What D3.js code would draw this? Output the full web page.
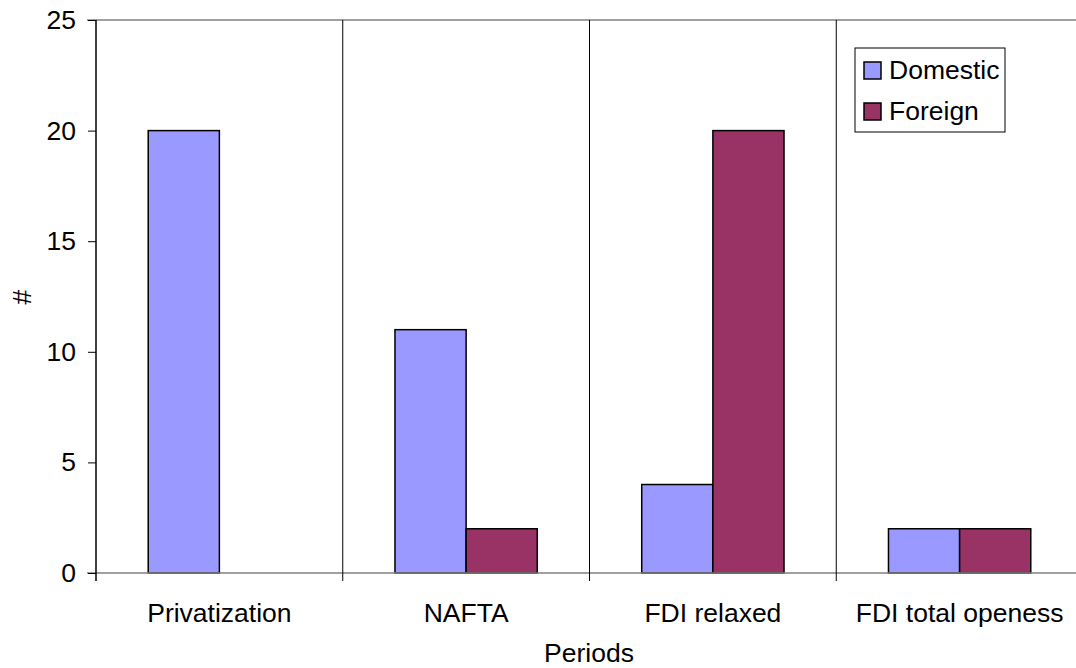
<!DOCTYPE html>
<html>
<head>
<meta charset="utf-8">
<script src="https://cdn.jsdelivr.net/npm/d3@7"></script>
<style>
  html, body { margin: 0; padding: 0; background: #fff; }
  svg { display: block; font-family: Arial, "Liberation Sans", sans-serif; }
</style>
</head>
<body>
<svg id="chart" width="1076" height="668"></svg>
<script>
// Number of firms per period, by ownership
const periods = ["Privatization", "NAFTA", "FDI relaxed", "FDI total openess"];
const seriesNames = ["Domestic", "Foreign"];
const domestic = [20, 11, 4, 2];
const foreign = [0, 2, 20, 2];
const yTicks = [0, 5, 10, 15, 20, 25];
const colors = ["#9999FF", "#993366"];

const fontSize = 26.5;
const svg = d3.select("#chart");
const plotLeft = 96, plotRight = 1083, plotTop = 20, plotBottom = 573;

const x = d3.scaleBand().domain(periods).range([plotLeft, plotRight]).paddingInner(0).paddingOuter(0);
const xSub = d3.scaleBand().domain(seriesNames).range([0, x.bandwidth()]).paddingInner(0).paddingOuter(0.734);
const y = d3.scaleLinear().domain([0, 25]).range([plotBottom, plotTop]);

// Plot frame: top border
svg.append("line").attr("x1", 87).attr("x2", 1076).attr("y1", y(25)).attr("y2", y(25))
  .attr("stroke", "#808080").attr("stroke-width", 1.5);

// Bars
const rows = periods.map((p, i) => ({ period: p, values: [domestic[i], foreign[i]] }));
const groups = svg.append("g").selectAll("g").data(rows).join("g")
  .attr("transform", d => `translate(${x(d.period)},0)`);
groups.selectAll("rect")
  .data(d => d.values.map((v, j) => ({ name: seriesNames[j], value: v, j })).filter(d => d.value > 0))
  .join("rect")
  .attr("x", d => xSub(d.name))
  .attr("width", xSub.bandwidth())
  .attr("y", d => y(d.value))
  .attr("height", d => y(0) - y(d.value))
  .attr("fill", d => colors[d.j])
  .attr("stroke", "#000")
  .attr("stroke-width", 1.5);

// Category axis line
svg.append("line").attr("x1", 87).attr("x2", 1076).attr("y1", y(0)).attr("y2", y(0))
  .attr("stroke", "#808080").attr("stroke-width", 1.5);

// Category separators (crossing the axis as tick marks)
const bounds = periods.slice(1).map(p => x(p));
svg.append("g").selectAll("line").data(bounds).join("line")
  .attr("x1", d => d).attr("x2", d => d).attr("y1", plotTop).attr("y2", plotBottom + 8)
  .attr("stroke", "#000").attr("stroke-width", 1);

// Value axis
const yAxis = svg.append("g").attr("transform", `translate(${plotLeft},0)`)
  .call(d3.axisLeft(y).tickValues(yTicks).tickSize(8).tickPadding(12).tickFormat(d3.format("d")));
yAxis.select(".domain").remove();
yAxis.selectAll(".tick line").attr("stroke", "#000").attr("stroke-width", 1);
yAxis.selectAll(".tick text").attr("font-size", fontSize).attr("fill", "#000")
  .attr("font-family", "Arial, 'Liberation Sans', sans-serif");
svg.append("line").attr("x1", plotLeft).attr("x2", plotLeft).attr("y1", plotTop).attr("y2", plotBottom + 8)
  .attr("stroke", "#000").attr("stroke-width", 1.5);

// Category labels
svg.append("g").selectAll("text").data(periods).join("text")
  .attr("x", d => x(d) + x.bandwidth() / 2)
  .attr("y", 622)
  .attr("text-anchor", "middle")
  .attr("font-size", fontSize)
  .text(d => d);

// Axis titles
svg.append("text").attr("x", 589).attr("y", 662).attr("text-anchor", "middle")
  .attr("font-size", fontSize).text("Periods");
svg.append("text").attr("transform", "translate(31,297) rotate(-90)")
  .attr("text-anchor", "middle").attr("font-size", fontSize).text("#");

// Legend
const legend = svg.append("g").attr("transform", "translate(855,48)");
legend.append("rect").attr("width", 150).attr("height", 84)
  .attr("fill", "#fff").attr("stroke", "#000").attr("stroke-width", 1);
const item = legend.selectAll("g.item").data(seriesNames).join("g")
  .attr("class", "item")
  .attr("transform", (d, i) => `translate(9,${14 + i * 41})`);
item.append("rect").attr("width", 17).attr("height", 17)
  .attr("fill", (d, i) => colors[i]).attr("stroke", "#000").attr("stroke-width", 1.5);
item.append("text").attr("x", 25).attr("y", 17).attr("font-size", fontSize).text(d => d);
</script>
</body>
</html>
